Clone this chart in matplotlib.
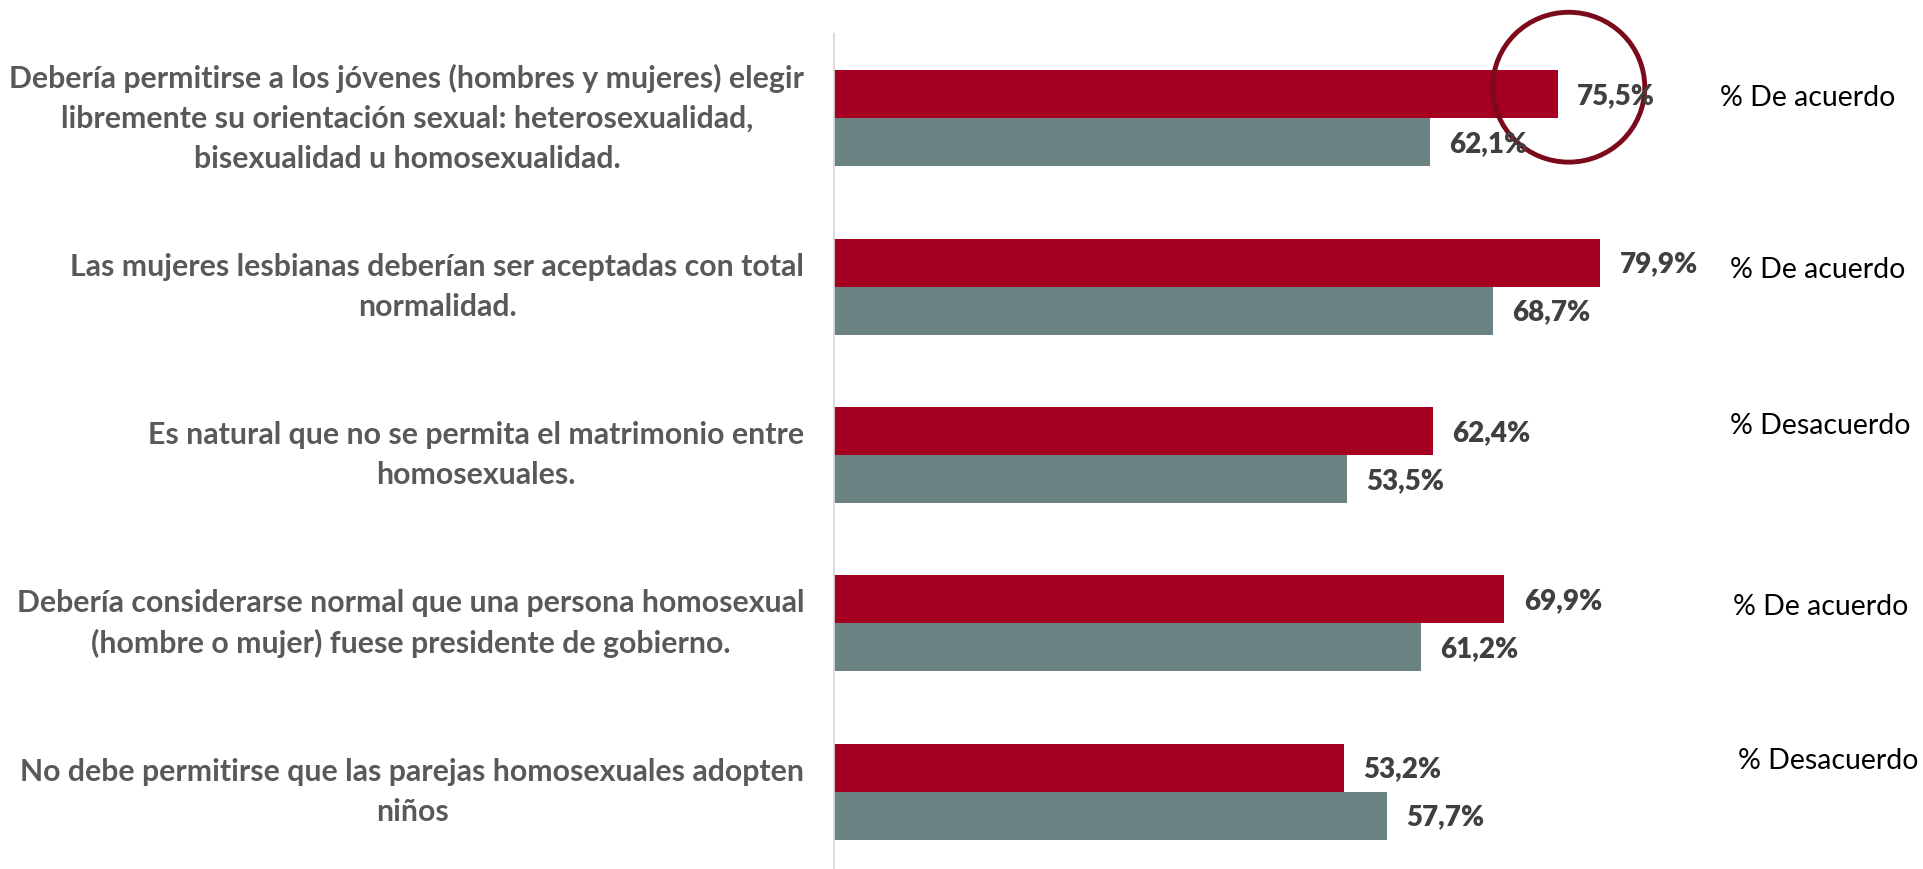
import matplotlib.pyplot as plt
from matplotlib.patches import Ellipse

statements = [
    'Debería permitirse a los jóvenes (hombres y mujeres) elegir\nlibremente su orientación sexual: heterosexualidad,\nbisexualidad u homosexualidad.',
    'Las mujeres lesbianas deberían ser aceptadas con total\nnormalidad.',
    'Es natural que no se permita el matrimonio entre\nhomosexuales.',
    'Debería considerarse normal que una persona homosexual\n(hombre o mujer) fuese presidente de gobierno.',
    'No debe permitirse que las parejas homosexuales adopten\nniños',
]
red_values = [75.5, 79.9, 62.4, 69.9, 53.2]
gray_values = [62.1, 68.7, 53.5, 61.2, 57.7]
side_notes = ['% De acuerdo', '% De acuerdo', '% Desacuerdo', '% De acuerdo', '% Desacuerdo']

# where the side notes sit (x in data units, y offset from row centre)
note_x = [92.4, 93.4, 93.4, 93.7, 94.3]
note_dy = [-0.12, -0.10, -0.17, -0.10, -0.18]

RED = '#A50021'
GRAY = '#6C8383'
FONT = 'Lato'


def fmt(v):
    return f'{v:.1f}%'.replace('.', ',')


fig = plt.figure(figsize=(19.24, 8.69), dpi=100)
ax = fig.add_axes([0.4335, -0.008, 0.4985, 0.9689])

h = 0.285
ys = list(range(len(statements)))
ax.barh([y - h / 2 for y in ys], red_values, height=h, color=RED)
ax.barh([y + h / 2 for y in ys], gray_values, height=h, color=GRAY)

for y, r, g in zip(ys, red_values, gray_values):
    ax.text(r + 2, y - h / 2 + 0.01, fmt(r), va='center', ha='left', fontsize=20,
            fontweight='heavy', color='#404040', family=FONT)
    ax.text(g + 2, y + h / 2 + 0.01, fmt(g), va='center', ha='left', fontsize=20,
            fontweight='heavy', color='#404040', family=FONT)

for y, note, nx, dy in zip(ys, side_notes, note_x, note_dy):
    ax.text(nx, y + dy, note, va='center', ha='left', fontsize=20.5,
            color='black', family=FONT, clip_on=False)

for y, s in zip(ys, statements):
    ax.text(-3.1, y, s, transform=ax.transData, ha='right', va='center',
            multialignment='center', fontsize=21.8, fontweight='bold',
            color='#595959', family=FONT, linespacing=1.52, clip_on=False)

# highlight circle round the first value
ax.add_patch(Ellipse((76.6, -0.184), 15.85, 0.89, fill=False,
                     edgecolor='#7B0A1A', linewidth=3.5, clip_on=False))

ax.set_xlim(0, 100)
ax.set_ylim(4.5, -0.5)
ax.set_xticks([])
ax.set_yticks([])
for side in ['top', 'right', 'bottom']:
    ax.spines[side].set_visible(False)
ax.spines['left'].set_color('#D9D9D9')
ax.spines['left'].set_linewidth(1.3)

fig.savefig('out.png', dpi=100)
